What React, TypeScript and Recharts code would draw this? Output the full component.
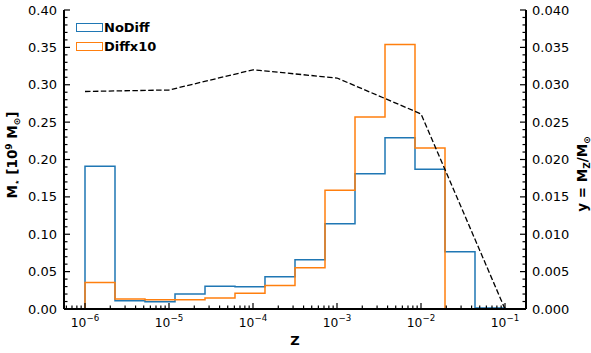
import React from 'react';
import { ComposedChart, Line, XAxis, YAxis, Legend } from 'recharts';

// histogram bin edges (log-spaced, 1e-6 .. 1e-1)
const binEdges = [
  1.0e-6, 2.276e-6, 5.179e-6, 1.179e-5, 2.683e-5, 6.105e-5, 1.389e-4, 3.162e-4,
  7.197e-4, 1.638e-3, 3.728e-3, 8.483e-3, 1.931e-2, 4.394e-2, 1.0e-1,
];

// stellar mass per metallicity bin [1e9 Msun]
const noDiffMass = [
  0.191, 0.011, 0.0097, 0.02, 0.0305, 0.0297, 0.043, 0.066, 0.114, 0.181, 0.229, 0.187, 0.0765, 0.0015,
];
const diffx10Mass = [
  0.0354, 0.0133, 0.0124, 0.0124, 0.0146, 0.0212, 0.0314, 0.0553, 0.159, 0.257, 0.354, 0.2155, 0, 0,
];

// yield curve (right axis)
const yieldZ = [1e-6, 1e-5, 1e-4, 1e-3, 1e-2, 1e-1];
const yieldY = [0.0291, 0.0293, 0.032, 0.0309, 0.0261, 0.0];

const legendOrder = ['NoDiff', 'Diffx10'];

const xMajorTicks = [1e-6, 1e-5, 1e-4, 1e-3, 1e-2, 1e-1];
const xTickExponents = ['−6', '−5', '−4', '−3', '−2', '−1'];

const X_MIN = Math.pow(10, -6.25);
const X_MAX = Math.pow(10, -0.75);
const FONT = '"DejaVu Sans", sans-serif';

// minor ticks: 2..9 x 10^k inside the domain
const xMinorTicks: number[] = [];
for (let e = -7; e <= -1; e++) {
  for (let m = 2; m <= 9; m++) {
    const v = m * Math.pow(10, e);
    if (v > X_MIN && v < X_MAX) xMinorTicks.push(v);
  }
}
const xTicks = [...xMajorTicks, ...xMinorTicks].sort((a, b) => a - b);
const leftTicks = Array.from({ length: 41 }, (_, i) => i / 100);
const rightTicks = Array.from({ length: 41 }, (_, i) => i / 1000);

const toSteps = (values: number[]) => {
  const pts = [{ x: binEdges[0], y: 0 }];
  values.forEach((v, i) => pts.push({ x: binEdges[i], y: v }));
  pts.push({ x: binEdges[binEdges.length - 1], y: 0 });
  return pts;
};

const noDiffData = toSteps(noDiffMass);
const diffx10Data = toSteps(diffx10Mass);
const yieldData = yieldZ.map((z, i) => ({ x: z, y: yieldY[i] }));

const majorIndex = (v: number) => xMajorTicks.findIndex(t => Math.abs(v / t - 1) < 1e-6);

const BottomTick = (props: any) => {
  const { x, y, payload } = props;
  const idx = majorIndex(payload.value);
  const major = idx >= 0;
  return (
    <g>
      <line x1={x} y1={y} x2={x} y2={y - (major ? 6 : 3.5)} stroke="#000" strokeWidth={1.2} />
      {major && (
        <text x={x} y={y + 17.7} textAnchor="middle" fontSize={12.3} fontFamily={FONT} fill="#000">
          <tspan>10</tspan>
          <tspan dy={-6} fontSize={8.7}>{xTickExponents[idx]}</tspan>
        </text>
      )}
    </g>
  );
};

const TopTick = (props: any) => {
  const { x, y, payload } = props;
  const major = majorIndex(payload.value) >= 0;
  return <line x1={x} y1={y} x2={x} y2={y + (major ? 6 : 3.5)} stroke="#000" strokeWidth={1.2} />;
};

const LeftTick = (props: any) => {
  const { x, y, payload } = props;
  const v = payload.value;
  const major = Math.round(v * 100) % 5 === 0;
  return (
    <g>
      <line x1={x} y1={y} x2={x + (major ? 6 : 3.5)} y2={y} stroke="#000" strokeWidth={1.2} />
      {major && (
        <text x={x - 7} y={y + 4.5} textAnchor="end" fontSize={13} fontFamily={FONT} fill="#000">
          {v.toFixed(2)}
        </text>
      )}
    </g>
  );
};

const RightTick = (props: any) => {
  const { x, y, payload } = props;
  const v = payload.value;
  const major = Math.round(v * 1000) % 5 === 0;
  return (
    <g>
      <line x1={x} y1={y} x2={x - (major ? 6 : 3.5)} y2={y} stroke="#000" strokeWidth={1.2} />
      {major && (
        <text x={x + 6} y={y + 4.5} textAnchor="start" fontSize={13} fontFamily={FONT} fill="#000">
          {v.toFixed(3)}
        </text>
      )}
    </g>
  );
};

const LegendBox = ({ payload }: any) => {
  const items = legendOrder
    .map(name => (payload || []).find((p: any) => p.value === name))
    .filter(Boolean);
  return (
    <div style={{ fontFamily: FONT, fontWeight: 'bold', fontSize: 13, color: '#000' }}>
      {items.map((p: any) => (
        <div key={p.value} style={{ display: 'flex', alignItems: 'center', height: 19.5 }}>
          <span style={{ width: 25, height: 7, border: `1.5px solid ${p.color}`, marginRight: 1 }} />
          <span>{p.value}</span>
        </div>
      ))}
    </div>
  );
};

const frame = { stroke: '#000', strokeWidth: 2 };

export default function App() {
  return (
    <div style={{ position: 'absolute', left: 0, top: 0, width: 591, height: 353, background: '#fff' }}>
      <ComposedChart width={591} height={353} margin={{ top: 10, right: 15, bottom: 14, left: 14 }}>
        <XAxis
          xAxisId="bottom"
          dataKey="x"
          type="number"
          scale="log"
          domain={[X_MIN, X_MAX]}
          allowDataOverflow
          ticks={xTicks}
          interval={0}
          tick={<BottomTick />}
          tickLine={false}
          tickSize={0}
          tickMargin={0}
          height={30}
          axisLine={frame}
        />
        <XAxis
          xAxisId="top"
          orientation="top"
          dataKey="x"
          type="number"
          scale="log"
          domain={[X_MIN, X_MAX]}
          allowDataOverflow
          ticks={xTicks}
          interval={0}
          tick={<TopTick />}
          tickLine={false}
          tickSize={0}
          tickMargin={0}
          height={0}
          axisLine={frame}
        />
        <YAxis
          yAxisId="left"
          type="number"
          domain={[0, 0.4]}
          allowDataOverflow
          ticks={leftTicks}
          interval={0}
          tick={<LeftTick />}
          tickLine={false}
          tickSize={0}
          tickMargin={0}
          width={50}
          axisLine={frame}
        />
        <YAxis
          yAxisId="right"
          orientation="right"
          type="number"
          domain={[0, 0.04]}
          allowDataOverflow
          ticks={rightTicks}
          interval={0}
          tick={<RightTick />}
          tickLine={false}
          tickSize={0}
          tickMargin={0}
          width={50}
          axisLine={frame}
        />
        <Legend
          layout="vertical"
          align="center"
          verticalAlign="middle"
          content={<LegendBox />}
          wrapperStyle={{ left: 76, top: 17.5, width: 120, height: 40 }}
        />
        <Line
          xAxisId="bottom"
          yAxisId="left"
          data={noDiffData}
          dataKey="y"
          name="NoDiff"
          type="stepAfter"
          stroke="#1f77b4"
          strokeWidth={1.5}
          dot={false}
          activeDot={false}
          isAnimationActive={false}
        />
        <Line
          xAxisId="bottom"
          yAxisId="left"
          data={diffx10Data}
          dataKey="y"
          name="Diffx10"
          type="stepAfter"
          stroke="#ff7f0e"
          strokeWidth={1.5}
          dot={false}
          activeDot={false}
          isAnimationActive={false}
        />
        <Line
          xAxisId="bottom"
          yAxisId="right"
          data={yieldData}
          dataKey="y"
          name="yield"
          type="linear"
          stroke="#000"
          strokeWidth={1.3}
          strokeDasharray="5.5 2.4"
          legendType="none"
          dot={false}
          activeDot={false}
          isAnimationActive={false}
        />
        {/* axis titles */}
        <text x={295} y={345} textAnchor="middle" fontSize={13} fontWeight="bold" fontFamily={FONT}>
          Z
        </text>
        <text
          transform="translate(17,155) rotate(-90)"
          textAnchor="middle"
          fontSize={13.5}
          fontWeight="bold"
          fontFamily={FONT}
        >
          <tspan>M</tspan>
          <tspan fontSize={9} dy={3}>⋆</tspan>
          <tspan dy={-3}> [10</tspan>
          <tspan fontSize={9} dy={-5}>9</tspan>
          <tspan dy={5}> M</tspan>
          <tspan fontSize={9} dy={3}>⊙</tspan>
          <tspan dy={-3}>]</tspan>
        </text>
        <text
          transform="translate(587,174) rotate(-90)"
          textAnchor="middle"
          fontSize={13.5}
          fontWeight="bold"
          fontFamily={FONT}
        >
          <tspan>y = M</tspan>
          <tspan fontSize={9} dy={3}>Z</tspan>
          <tspan dy={-3}>/M</tspan>
          <tspan fontSize={9} dy={3}>⊙</tspan>
        </text>
      </ComposedChart>
    </div>
  );
}
